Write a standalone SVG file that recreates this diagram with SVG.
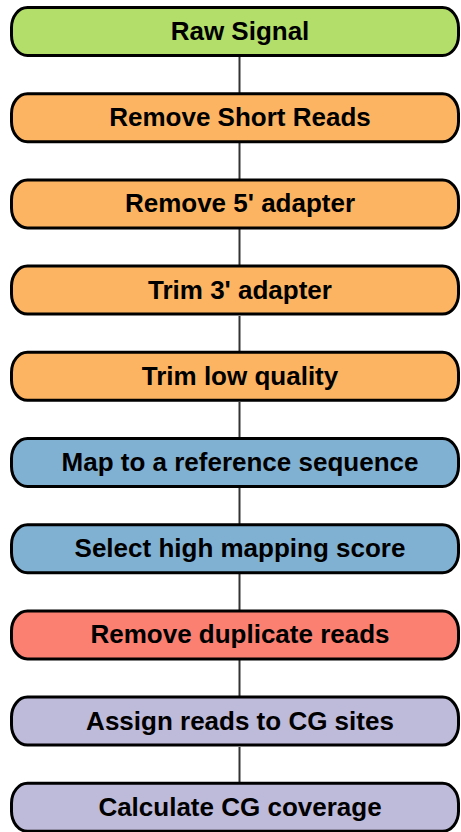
<svg xmlns="http://www.w3.org/2000/svg" width="461" height="832" viewBox="0 0 461 832">
  <style>
    .box { stroke: #000; stroke-width: 3; }
    .lbl { font-family: "Liberation Sans", Arial, sans-serif; font-weight: bold; font-size: 26px; fill: #000; text-anchor: middle; }
    .edge { stroke: #333; stroke-width: 2; fill: none; }
    .g { fill: #b3de69; }
    .o { fill: #fdb462; }
    .b { fill: #80b1d3; }
    .r { fill: #fb8072; }
    .p { fill: #bebada; }
  </style>
  <rect width="461" height="832" fill="#fff"/>
  <g id="edges">
    <line class="edge" x1="239.5" y1="57" x2="239.5" y2="93"/>
    <line class="edge" x1="239.5" y1="143" x2="239.5" y2="179"/>
    <line class="edge" x1="239.5" y1="229" x2="239.5" y2="265"/>
    <line class="edge" x1="239.5" y1="316" x2="239.5" y2="352"/>
    <line class="edge" x1="239.5" y1="402" x2="239.5" y2="438"/>
    <line class="edge" x1="239.5" y1="488" x2="239.5" y2="524"/>
    <line class="edge" x1="239.5" y1="574" x2="239.5" y2="610"/>
    <line class="edge" x1="239.5" y1="660" x2="239.5" y2="696"/>
    <line class="edge" x1="239.5" y1="747" x2="239.5" y2="783"/>
  </g>
  <g id="n0"><rect class="box g" x="11.5" y="7.5" width="447" height="48" rx="16" ry="20"/><text class="lbl" x="240" y="40">Raw Signal</text></g>
  <g id="n1"><rect class="box o" x="11.5" y="93.7" width="447" height="48" rx="16" ry="20"/><text class="lbl" x="240" y="126.2">Remove Short Reads</text></g>
  <g id="n2"><rect class="box o" x="11.5" y="179.9" width="447" height="48" rx="16" ry="20"/><text class="lbl" x="240" y="212.4">Remove 5' adapter</text></g>
  <g id="n3"><rect class="box o" x="11.5" y="266.1" width="447" height="48" rx="16" ry="20"/><text class="lbl" x="240" y="298.6">Trim 3' adapter</text></g>
  <g id="n4"><rect class="box o" x="11.5" y="352.3" width="447" height="48" rx="16" ry="20"/><text class="lbl" x="240" y="384.8">Trim low quality</text></g>
  <g id="n5"><rect class="box b" x="11.5" y="438.5" width="447" height="48" rx="16" ry="20"/><text class="lbl" x="240" y="471">Map to a reference sequence</text></g>
  <g id="n6"><rect class="box b" x="11.5" y="524.7" width="447" height="48" rx="16" ry="20"/><text class="lbl" x="240" y="557.2">Select high mapping score</text></g>
  <g id="n7"><rect class="box r" x="11.5" y="610.9" width="447" height="48" rx="16" ry="20"/><text class="lbl" x="240" y="643.4">Remove duplicate reads</text></g>
  <g id="n8"><rect class="box p" x="11.5" y="697.1" width="447" height="48" rx="16" ry="20"/><text class="lbl" x="240" y="729.6">Assign reads to CG sites</text></g>
  <g id="n9"><rect class="box p" x="11.5" y="783.3" width="447" height="48" rx="16" ry="20"/><text class="lbl" x="240" y="815.8">Calculate CG coverage</text></g>
</svg>
